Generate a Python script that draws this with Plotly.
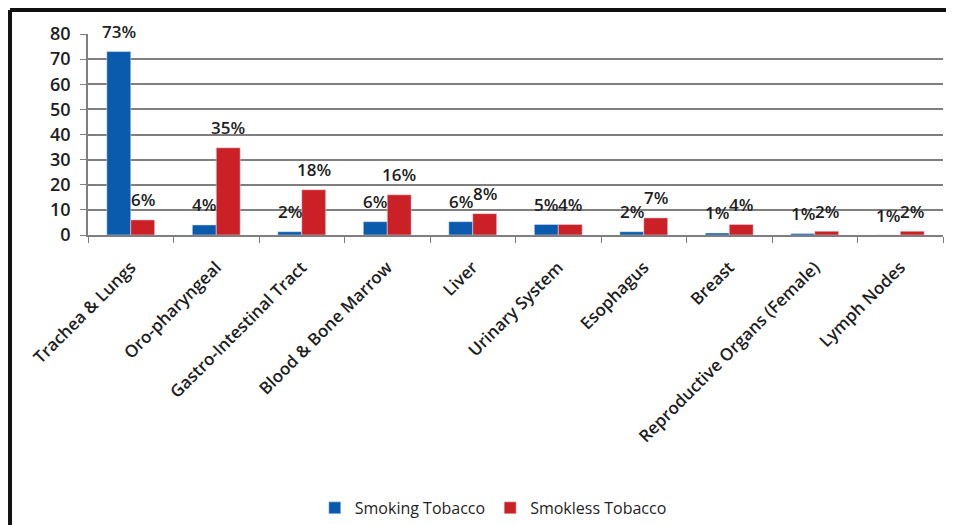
import plotly.graph_objects as go

categories = ["Trachea & Lungs", "Oro-pharyngeal", "Gastro-Intestinal Tract", "Blood & Bone Marrow",
              "Liver", "Urinary System", "Esophagus", "Breast", "Reproductive Organs (Female)", "Lymph Nodes"]
smoking = [73, 4, 1.3, 5.3, 5.3, 4.2, 1.3, 0.8, 0.6, 0]
smokeless = [6, 34.7, 18, 16, 8.5, 4.2, 6.8, 4.2, 1.5, 1.5]
smoking_labels = ["73%", "4%", "2%", "6%", "6%", "5%", "2%", "1%", "1%", "1%"]
smokeless_labels = ["6%", "35%", "18%", "16%", "8%", "4%", "7%", "4%", "2%", "2%"]

font = "'Open Sans', sans-serif"
dark = "#1e1e1e"

fig = go.Figure()
fig.add_trace(go.Bar(x=categories, y=smoking, name="Smoking Tobacco", marker_color="#0A5BAE"))
fig.add_trace(go.Bar(x=categories, y=smokeless, name="Smokless Tobacco", marker_color="#CC2027"))

annotations = []
for cat, v, t in zip(categories, smoking, smoking_labels):
    annotations.append(dict(x=cat, y=v, text=t, showarrow=False, xshift=-12, yshift=20,
                            yanchor="middle", font=dict(size=17, color=dark, family=font, weight=600)))
for cat, v, t in zip(categories, smokeless, smokeless_labels):
    annotations.append(dict(x=cat, y=v, text=t, showarrow=False, xshift=12, yshift=20,
                            yanchor="middle", font=dict(size=17, color=dark, family=font, weight=600)))

fig.update_layout(
    width=946, height=517,
    margin=dict(l=80, r=11, t=26, b=290, autoexpand=False),
    paper_bgcolor="white", plot_bgcolor="white",
    barmode="group", bargap=0.44, bargroupgap=0,
    font=dict(family=font, color=dark),
    legend=dict(orientation="h", x=0.474, xanchor="center", y=-1.358, yanchor="middle",
                font=dict(size=16, color=dark, family=font), traceorder="normal",
                itemwidth=30),
    annotations=annotations,
)
fig.update_yaxes(range=[0, 80], dtick=10, showgrid=True, gridcolor="#7f7f7f", gridwidth=1.5,
                 showline=True, linecolor="#7f7f7f", linewidth=1.5, ticks="outside", ticklen=6,
                 tickcolor="#7f7f7f", ticklabelstandoff=6, automargin=False,
                 tickfont=dict(size=18, color=dark, family=font, weight=600),
                 zeroline=False)
fig.update_xaxes(showline=True, linecolor="#7f7f7f", linewidth=1.5, ticks="outside", ticklen=6,
                 tickcolor="#7f7f7f", tickson="boundaries", tickangle=-45, automargin=False,
                 ticklabelstandoff=14,
                 tickfont=dict(size=17, color=dark, family=font, weight=600))

# frame around the figure (top and left edges visible)
fig.add_shape(type="line", xref="paper", yref="paper", x0=-0.0912, x1=1.02, y0=1.1194, y1=1.1194,
              line=dict(color="#111111", width=4))
fig.add_shape(type="line", xref="paper", yref="paper", x0=-0.0912, x1=-0.0912, y0=1.1194, y1=-1.5,
              line=dict(color="#111111", width=4))

fig.write_html("out.html")
